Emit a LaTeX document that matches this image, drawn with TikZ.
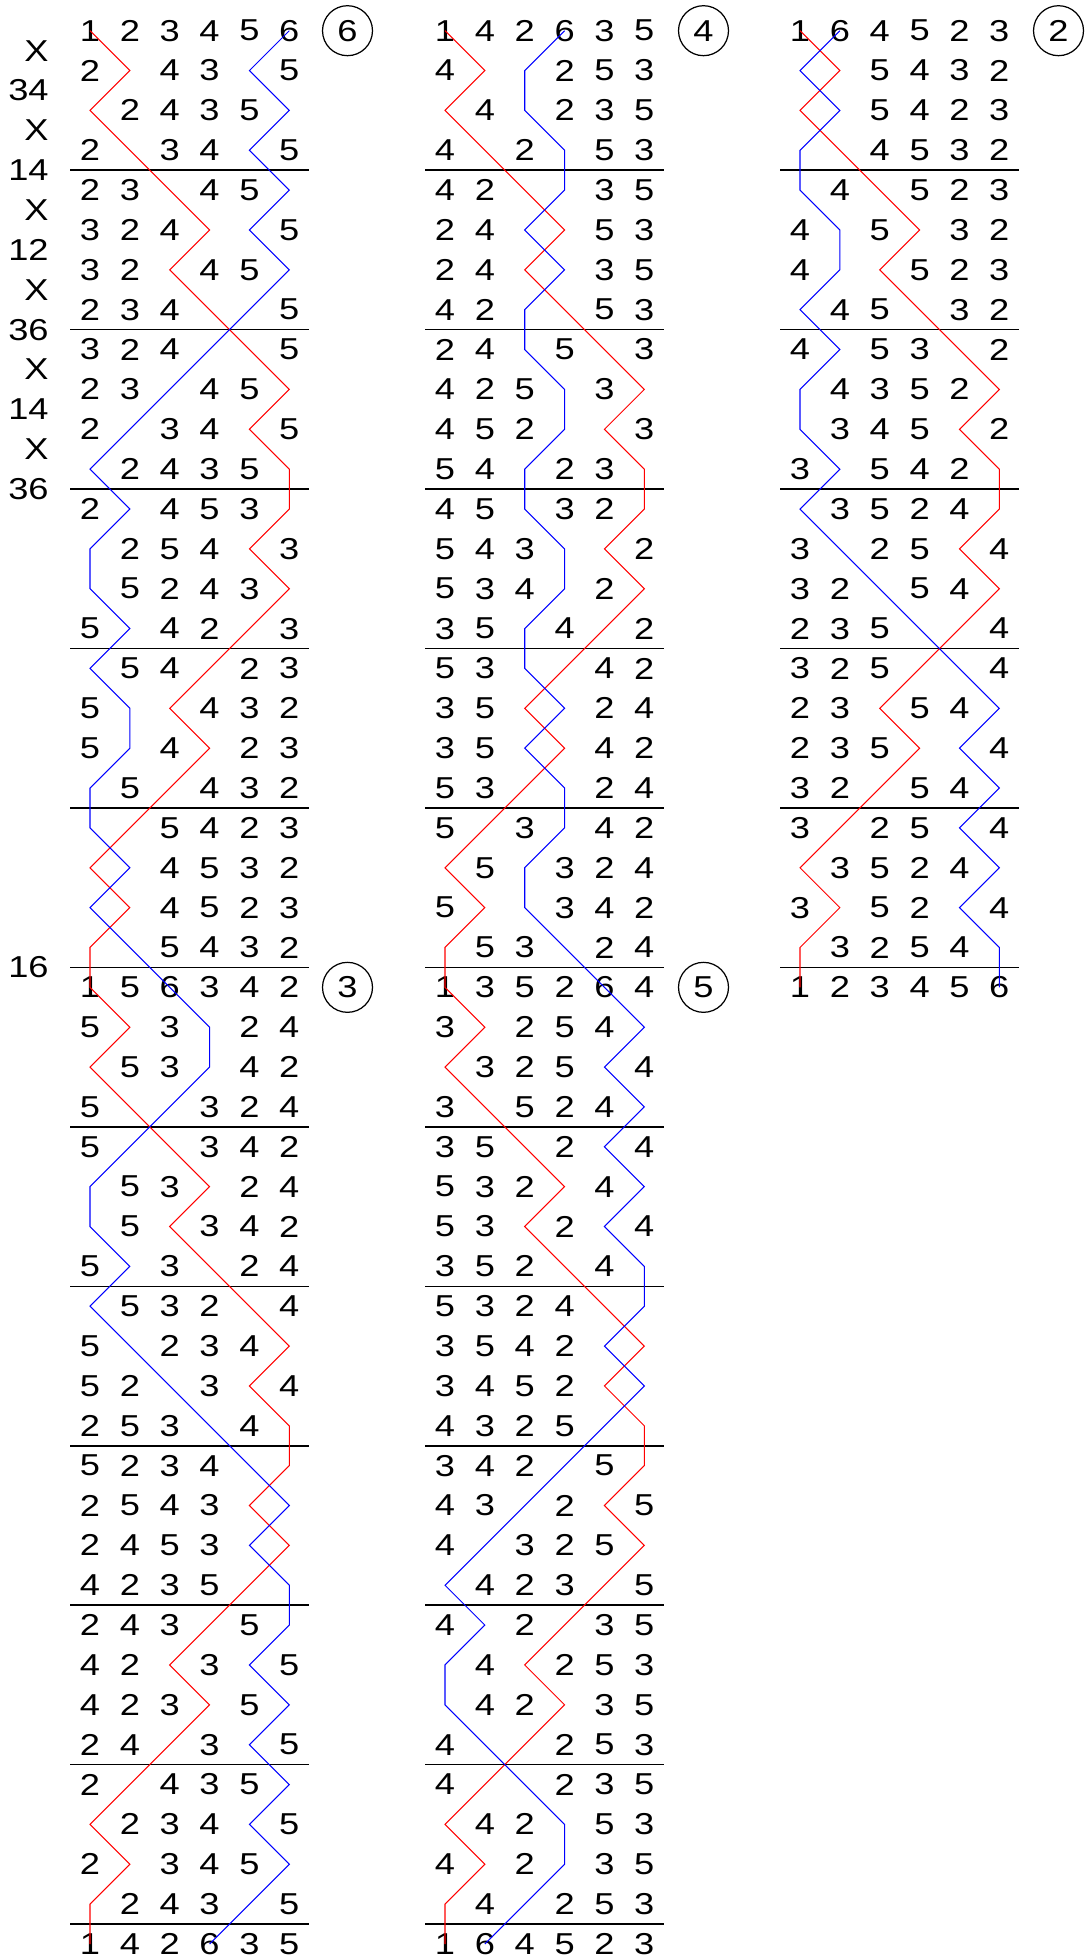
\documentclass[tikz,border=0pt]{standalone}
\usepackage{fontspec}
\setmainfont{Liberation Sans}[FakeStretch=1.2]
\usepackage{tikz}
\usetikzlibrary{positioning}

% lead heads
\def\leadA{{1,2,3,4,5,6}}
\def\leadB{{1,5,6,3,4,2}}
\def\leadC{{1,4,2,6,3,5}}
\def\leadD{{1,3,5,2,6,4}}
\def\leadE{{1,6,4,5,2,3}}
% one plain lead, as places of the lead head
\def\plainlead{1/2/3/4/5/6,2/1/4/3/6/5,1/2/4/3/5/6,2/1/3/4/6/5,
2/3/1/4/5/6,3/2/4/1/6/5,3/2/1/4/5/6,2/3/4/1/6/5,
3/2/4/6/1/5,2/3/6/4/5/1,2/6/3/4/1/5,6/2/4/3/5/1,
2/6/4/5/3/1,6/2/5/4/1/3,6/5/2/4/3/1,5/6/4/2/1/3,
6/5/4/1/2/3,5/6/1/4/3/2,5/6/4/1/2/3,6/5/1/4/3/2,
6/1/5/4/2/3,1/6/4/5/3/2,6/1/4/5/2/3,1/6/5/4/3/2,
1/5/6/3/4/2}
\def\rh{39.86}

\begin{document}
\begin{tikzpicture}[x=0.02cm,y=-0.02cm,
  bell/.style={inner sep=0pt,font=\fontsize{17.2}{20}\selectfont},
  ring/.style={bell,draw,circle,line width=0.7pt,minimum size=1cm},
  rule/.style={line width=0.9pt},
  bellone/.style={red,line width=0.6pt},
  bellsix/.style={blue,line width=0.6pt}]
\useasboundingbox (0,0) rectangle (1087,1959);

% rows of the five leads
\foreach \cx/\off/\lh/\last in {90/0/\leadA/23,90/24/\leadB/24,445/0/\leadC/23,445/24/\leadD/24,800/0/\leadE/24}{
  \foreach \a/\b/\c/\d/\e/\f [count=\k from 0] in \plainlead {
    \ifnum\k>\last\relax\else
    \pgfmathtruncatemacro\n{\off+\k}
    \foreach \v [count=\p] in {\a,\b,\c,\d,\e,\f}{
      \pgfmathtruncatemacro\bell{\lh[\v-1]}
      \pgfmathsetmacro\px{\cx+\rh*(\p-1)}
      \pgfmathsetmacro\py{30.7+\rh*\n}
      \ifnum\bell=1 \coordinate (R\cx-\n) at (\px,\py);\fi
      \ifnum\bell=6 \coordinate (B\cx-\n) at (\px,\py);\fi
      \pgfmathtruncatemacro\show{(\bell>1)*(\bell<6)+(\k==0)+(\k==24)}
      \ifnum\show>0 \node[bell] (N\cx-\n-\p) at (\px,\py) {\bell};\fi
    }
    \fi
  }
}

% lead lines
\foreach \cx/\m in {90/12,445/12,800/6}
  \foreach \i in {1,...,\m}
    \draw[rule] ({\cx-20},{30.7+\rh*(4*\i-0.5)}) -- ++(239.3,0);

% paths of the treble and the tenor
\foreach \cx/\m in {90/48,445/48,800/24}{
  \draw[bellone] (R\cx-0) \foreach \n in {1,...,\m}{ -- (R\cx-\n)};
  \draw[bellsix] (B\cx-0) \foreach \n in {1,...,\m}{ -- (B\cx-\n)};
}

% place notation
\foreach \pn [count=\j from 0] in {X,34,X,14,X,12,X,36,X,14,X,36}
  \node[bell,anchor=east] (pn\j) at (49,{50.7+\rh*\j}) {\pn};
\node[bell,anchor=east] (le) at (49,{30.7+\rh*23.5}) {16};

% place bells
\node[ring] (pb6) at (347.5,30.7) {6};
\node[ring] (pb3) at (347.5,{30.7+\rh*24}) {3};
\node[ring] (pb4) at (703.5,30.7) {4};
\node[ring] (pb5) at (703.5,{30.7+\rh*24}) {5};
\node[ring] (pb2) at (1058.5,30.7) {2};
\end{tikzpicture}
\end{document}
